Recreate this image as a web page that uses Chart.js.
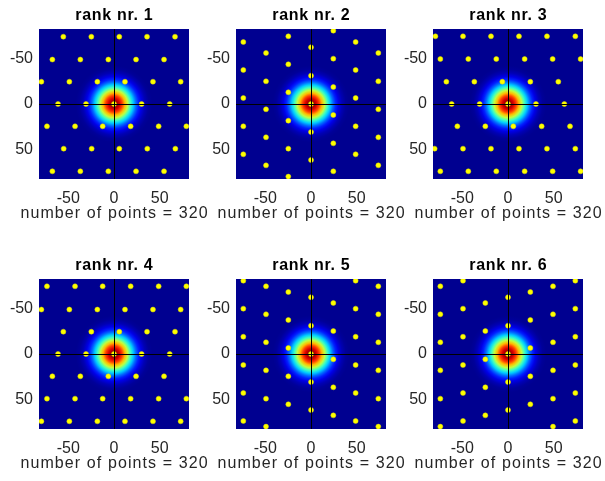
<!DOCTYPE html>
<html>
<head>
<meta charset="utf-8">
<script src="https://cdn.jsdelivr.net/npm/chart.js@4.4.1/dist/chart.umd.min.js"></script>
<style>
  body { margin: 0; background: #fff; width: 605px; height: 481px; position: relative; overflow: hidden; }
  canvas { position: absolute; }
</style>
</head>
<body>
<canvas id="rank1" width="215" height="224" style="left:0px;top:0px"></canvas>
<canvas id="rank2" width="215" height="224" style="left:197px;top:0px"></canvas>
<canvas id="rank3" width="215" height="224" style="left:394px;top:0px"></canvas>
<canvas id="rank4" width="215" height="224" style="left:0px;top:250px"></canvas>
<canvas id="rank5" width="215" height="224" style="left:197px;top:250px"></canvas>
<canvas id="rank6" width="215" height="224" style="left:394px;top:250px"></canvas>
<script>
const axisLimit = 82;
const tickValues = [-50, 0, 50];
const pointCount = 320;

// peak positions [x, y] for each rank
const rank1Dots = [
    [-55.4, -73.6], [-24.8, -73.6], [5.8, -73.6], [36.1, -73.6], [66.7, -73.6],
    [-67.4, -48.6], [-36.8, -48.6], [-6.2, -48.6], [24.1, -48.6], [54.7, -48.6],
    [-79.4, -24.4], [-48.8, -24.4], [-18.2, -24.4], [12.0, -24.4], [42.6, -24.4], [72.9, -24.4],
    [-61.2, 0], [-30.6, 0], [0, 0], [30.2, 0], [60.9, 0],
    [-73.3, 24.4], [-42.6, 24.4], [-12.4, 24.4], [18.2, 24.4], [48.8, 24.4], [79.1, 24.4],
    [-55.0, 48.8], [-24.4, 48.8], [5.8, 48.8], [36.4, 48.8], [67.1, 48.8],
    [-67.4, 73.6], [-36.8, 73.6], [-6.2, 73.6], [24.1, 73.6], [54.7, 73.6]
];
const rank2Dots = [
    [-74.0, -67.8], [-74.0, -37.2], [-74.0, -6.6], [-74.0, 24.4], [-74.0, 55.0],
    [-49.2, -55.8], [-49.2, -24.8], [-49.2, 5.8], [-49.2, 36.4], [-49.2, 67.1],
    [-24.8, -74.0], [-24.8, -43.4], [-24.8, -12.8], [-24.8, 18.2], [-24.8, 48.8], [-24.8, 79.4],
    [0, -62.0], [0, -31.0], [0, 0], [0, 30.6], [0, 61.2],
    [24.4, -80.2], [24.4, -49.6], [24.4, -18.6], [24.4, 12.0], [24.4, 43.0], [24.4, 73.6],
    [48.8, -67.8], [48.8, -37.2], [48.8, -6.6], [48.8, 24.4], [48.8, 55.0],
    [73.6, -55.8], [73.6, -24.8], [73.6, 5.8], [73.6, 36.4], [73.6, 67.1]
];
const rank3Dots = [
    [-79.4, -74.0], [-49.2, -74.0], [-18.6, -74.0], [12.0, -74.0], [42.6, -74.0], [73.6, -74.0],
    [-74.0, -49.2], [-43.4, -49.2], [-12.8, -49.2], [18.2, -49.2], [48.8, -49.2], [79.4, -49.2],
    [-67.4, -24.4], [-36.8, -24.4], [-6.2, -24.4], [24.4, -24.4], [55.0, -24.4],
    [-61.6, 0], [-31.0, 0], [0, 0], [30.6, 0], [61.6, 0],
    [-55.4, 24.4], [-24.8, 24.4], [5.8, 24.4], [36.8, 24.4], [67.8, 24.4],
    [-80.2, 48.8], [-49.2, 48.8], [-18.6, 48.8], [12.0, 48.8], [42.6, 48.8], [73.6, 48.8],
    [-74.0, 73.6], [-43.4, 73.6], [-12.8, 73.6], [18.2, 73.6], [48.8, 73.6], [79.4, 73.6]
];
const rank4Dots = [
    [-73.3, -74.0], [-42.6, -74.0], [-12.4, -74.0], [18.2, -74.0], [48.8, -74.0], [79.1, -74.0],
    [-79.4, -48.6], [-48.8, -48.6], [-18.2, -48.6], [12.0, -48.6], [42.6, -48.6], [72.9, -48.6],
    [-55.4, -24.4], [-24.8, -24.4], [5.8, -24.4], [36.1, -24.4], [66.7, -24.4],
    [-61.2, 0], [-30.6, 0], [0, 0], [30.2, 0], [60.9, 0],
    [-67.4, 24.4], [-36.8, 24.4], [-6.2, 24.4], [24.1, 24.4], [54.7, 24.4],
    [-73.3, 48.8], [-42.6, 48.8], [-12.4, 48.8], [18.2, 48.8], [48.8, 48.8], [79.1, 48.8],
    [-79.4, 73.6], [-48.8, 73.6], [-18.2, 73.6], [12.0, 73.6], [42.6, 73.6], [72.9, 73.6]
];
const rank5Dots = [
    [-74.0, -80.2], [-74.0, -49.6], [-74.0, -18.9], [-74.0, 12.0], [-74.0, 42.6], [-74.0, 73.2],
    [-49.2, -74.0], [-49.2, -43.4], [-49.2, -12.8], [-49.2, 17.9], [-49.2, 48.8], [-49.2, 79.4],
    [-24.8, -67.8], [-24.8, -37.2], [-24.8, -6.6], [-24.8, 24.4], [-24.8, 55.0],
    [0, -62.0], [0, -31.0], [0, 0], [0, 30.6], [0, 61.2],
    [24.4, -55.8], [24.4, -25.1], [24.4, 5.8], [24.4, 36.4], [24.4, 67.1],
    [48.8, -80.2], [48.8, -49.6], [48.8, -18.9], [48.8, 12.0], [48.8, 42.6], [48.8, 73.2],
    [73.6, -74.0], [73.6, -43.4], [73.6, -12.8], [73.6, 17.9], [73.6, 48.8], [73.6, 79.4]
];
const rank6Dots = [
    [-74.0, -74.0], [-74.0, -43.4], [-74.0, -12.8], [-74.0, 17.9], [-74.0, 48.8], [-74.0, 79.4],
    [-49.2, -80.2], [-49.2, -49.6], [-49.2, -18.9], [-49.2, 12.0], [-49.2, 42.6], [-49.2, 73.2],
    [-24.8, -55.8], [-24.8, -25.1], [-24.8, 5.8], [-24.8, 36.4], [-24.8, 67.1],
    [0, -62.0], [0, -31.0], [0, 0], [0, 30.6], [0, 61.2],
    [24.4, -67.8], [24.4, -37.2], [24.4, -6.6], [24.4, 24.4], [24.4, 55.0],
    [49.2, -74.0], [49.2, -43.4], [49.2, -12.8], [49.2, 17.9], [49.2, 48.8], [49.2, 79.4],
    [73.6, -80.2], [73.6, -49.6], [73.6, -18.9], [73.6, 12.0], [73.6, 42.6], [73.6, 73.2]
];

// central peak: radial profile (radius in axis units -> colormap level)
const blobRadius = [0, 3, 6, 9, 12, 15, 18, 21, 24, 27, 30, 34, 38, 42];
const blobLevel = [1.0, 0.977, 0.912, 0.813, 0.692, 0.563, 0.438, 0.325, 0.23, 0.156, 0.101, 0.052, 0.025, 0.016];
const backgroundLevel = 0.016;

const FONT = "'Liberation Sans', Arial, sans-serif";
const TEXT_COLOR = "#262626";

function jet(v) {
    const c = t => Math.round(255 * Math.min(1, Math.max(0, 1.5 - Math.abs(4 * v - t))));
    return `rgb(${c(3)},${c(2)},${c(1)})`;
}

// text centred over the axes box (title above, label below the ticks)
function axesText(ctx, text, x, y, font, color, spacing) {
    ctx.save();
    ctx.font = font;
    ctx.fillStyle = color;
    ctx.textAlign = "center";
    ctx.textBaseline = "middle";
    if ("letterSpacing" in ctx) ctx.letterSpacing = spacing + "px";
    ctx.fillText(text, x + spacing / 2, y);
    ctx.restore();
}

const imagePlugin = {
    id: "peakImage",
    beforeDatasetsDraw(chart) {
        const { ctx, chartArea: a, scales: { x, y } } = chart;
        const cx = x.getPixelForValue(0);
        const cy = y.getPixelForValue(0);
        const unit = Math.abs(x.getPixelForValue(1) - x.getPixelForValue(0));
        const lastR = blobRadius[blobRadius.length - 1];
        ctx.save();
        ctx.beginPath();
        ctx.rect(a.left, a.top, a.width, a.height);
        ctx.clip();
        ctx.fillStyle = jet(backgroundLevel);
        ctx.fillRect(a.left, a.top, a.width, a.height);
        const g = ctx.createRadialGradient(cx, cy, 0, cx, cy, lastR * unit);
        blobRadius.forEach((r, i) => g.addColorStop(r / lastR, jet(blobLevel[i])));
        ctx.fillStyle = g;
        ctx.beginPath();
        ctx.arc(cx, cy, lastR * unit, 0, Math.PI * 2);
        ctx.fill();
        ctx.restore();
    },
    afterDatasetsDraw(chart) {
        // black cross through the origin, on top of the peaks
        const { ctx, chartArea: a, scales: { x, y } } = chart;
        const px = Math.round(x.getPixelForValue(0)) + 0.5;
        const py = Math.round(y.getPixelForValue(0)) + 0.5;
        ctx.save();
        ctx.strokeStyle = "#000";
        ctx.lineWidth = 1;
        ctx.beginPath();
        ctx.moveTo(a.left, py);
        ctx.lineTo(a.right, py);
        ctx.moveTo(px, a.top);
        ctx.lineTo(px, a.bottom);
        ctx.stroke();
        ctx.restore();
    },
    afterDraw(chart, args, opts) {
        const a = chart.chartArea;
        const mid = (a.left + a.right) / 2;
        axesText(chart.ctx, opts.title, mid, a.top - 13, "bold 16px " + FONT, "#000", 0.7);
        axesText(chart.ctx, opts.xlabel, mid, a.bottom + 34.5, "16px " + FONT, TEXT_COLOR, 1.1);
    }
};

function setTicks(scale) {
    scale.ticks = tickValues.map(v => ({ value: v }));
}

function makeChart(id, rank, dots) {
    new Chart(document.getElementById(id), {
        type: "scatter",
        data: {
            datasets: [{
                data: dots.map(([x, y]) => ({ x, y })),
                pointRadius: 2.5,
                pointBackgroundColor: "#ffff00",
                pointBorderColor: "#d6d600",
                pointBorderWidth: 0.5,
                clip: 0
            }]
        },
        options: {
            responsive: false,
            animation: false,
            events: [],
            layout: { padding: { top: 29, right: 26 } },
            plugins: {
                legend: { display: false },
                tooltip: { enabled: false },
                peakImage: {
                    title: "rank nr. " + rank,
                    xlabel: "number of points = " + pointCount
                }
            },
            scales: {
                x: {
                    type: "linear",
                    min: -axisLimit,
                    max: axisLimit,
                    grid: { display: false, drawTicks: false },
                    border: { display: false },
                    afterBuildTicks: setTicks,
                    afterFit: s => { s.height = 45; },
                    ticks: { padding: 10, color: TEXT_COLOR, font: { family: FONT, size: 16 } }
                },
                y: {
                    type: "linear",
                    min: -axisLimit,
                    max: axisLimit,
                    reverse: true,
                    grid: { display: false, drawTicks: false },
                    border: { display: false },
                    afterBuildTicks: setTicks,
                    afterFit: s => { s.width = 39; },
                    ticks: { padding: 6, color: TEXT_COLOR, font: { family: FONT, size: 16 } }
                }
            }
        },
        plugins: [imagePlugin]
    });
}

makeChart("rank1", 1, rank1Dots);
makeChart("rank2", 2, rank2Dots);
makeChart("rank3", 3, rank3Dots);
makeChart("rank4", 4, rank4Dots);
makeChart("rank5", 5, rank5Dots);
makeChart("rank6", 6, rank6Dots);
</script>
</body>
</html>
